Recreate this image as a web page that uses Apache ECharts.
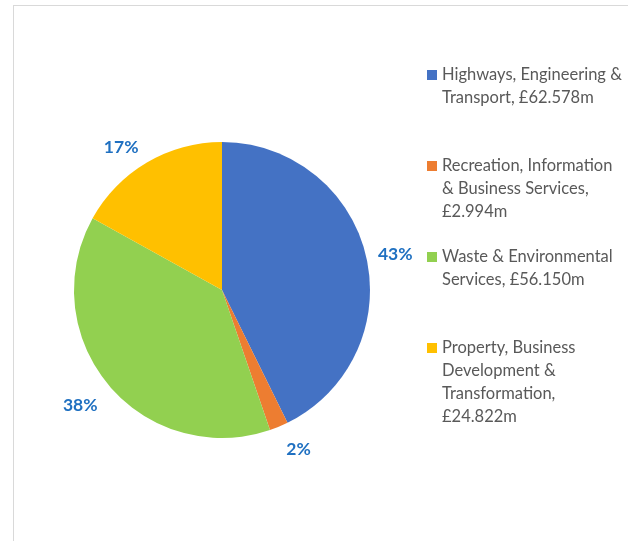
<!DOCTYPE html>
<html>
<head>
<meta charset="utf-8">
<script src="https://cdn.jsdelivr.net/npm/echarts@6/dist/echarts.min.js"></script>
<style>
  html, body { margin: 0; padding: 0; background: #fff; }
  #frame {
    position: absolute; left: 13px; top: 5px; right: 0; bottom: 0;
    border-top: 1px solid #d9d9d9; border-left: 1px solid #d9d9d9;
  }
  #chart { position: absolute; left: 0; top: 0; width: 628px; height: 541px; }
</style>
</head>
<body>
<div id="frame"></div>
<div id="chart"></div>
<script>
// budget split by service area (£m)
const categories = [
    "Highways, Engineering & Transport",
    "Recreation, Information & Business Services",
    "Waste & Environmental Services",
    "Property, Business Development & Transformation"
];
const values = [62.578, 2.994, 56.150, 24.822];
const legendLines = [
    ["Highways, Engineering &", "Transport, £62.578m"],
    ["Recreation, Information", "& Business Services,", "£2.994m"],
    ["Waste & Environmental", "Services, £56.150m"],
    ["Property, Business", "Development &", "Transformation,", "£24.822m"]
];
const colors = ["#4472C4", "#ED7D31", "#92D050", "#FFC000"];

const FONT = "Lato";
const LINE_H = 23;
const legendFirstLineY = [75, 166, 257, 348];
// small nudges so the % labels sit where Excel's "outside end" puts them
const labelNudge = [[-3, 5], [7, -8], [-3, -1], [-9, 13]];

const chart = echarts.init(document.getElementById("chart"), null, { renderer: "canvas" });

// square icon on the first text line: the path's box is as tall as the text block
function legendIcon(lines) {
    const h = lines * LINE_H;
    const y0 = LINE_H / 2 - 5;
    return "path://M0,0M0," + h + "M0," + y0 + "h10v10h-10z";
}

const legends = categories.map((name, i) => ({
    data: [name],
    orient: "vertical",
    left: 427,
    top: legendFirstLineY[i] - LINE_H / 2,
    padding: 0,
    itemWidth: 10,
    itemHeight: legendLines[i].length * LINE_H,
    icon: legendIcon(legendLines[i].length),
    selectedMode: false,
    formatter: () => legendLines[i].join("\n"),
    textStyle: {
        fontFamily: FONT,
        fontSize: 16.5,
        color: "#595959",
        lineHeight: LINE_H
    }
}));

const pieData = categories.map((name, i) => ({ name: name, value: values[i] }));

const option = {
    animation: false,
    backgroundColor: "transparent",
    color: colors,
    legend: legends,
    series: [
        {
            type: "pie",
            center: [222, 290],
            radius: [0, 148],
            startAngle: 90,
            clockwise: true,
            data: pieData,
            label: { show: false },
            labelLine: { show: false },
            emphasis: { disabled: true }
        },
        {
            // invisible ring used only to place the percentage labels just outside the pie
            type: "pie",
            center: [222, 290],
            radius: [168, 188],
            startAngle: 90,
            clockwise: true,
            silent: true,
            data: pieData,
            itemStyle: { color: "transparent" },
            label: {
                show: true,
                position: "inside",
                formatter: (p) => Math.round(p.percent) + "%",
                fontFamily: FONT,
                fontWeight: "bold",
                fontSize: 17.5,
                color: "#1F70C1"
            },
            labelLayout: (p) => ({ dx: labelNudge[p.dataIndex][0], dy: labelNudge[p.dataIndex][1] }),
            labelLine: { show: false },
            emphasis: { disabled: true }
        }
    ]
};

chart.setOption(option);
window.addEventListener("resize", () => chart.resize());
</script>
</body>
</html>
